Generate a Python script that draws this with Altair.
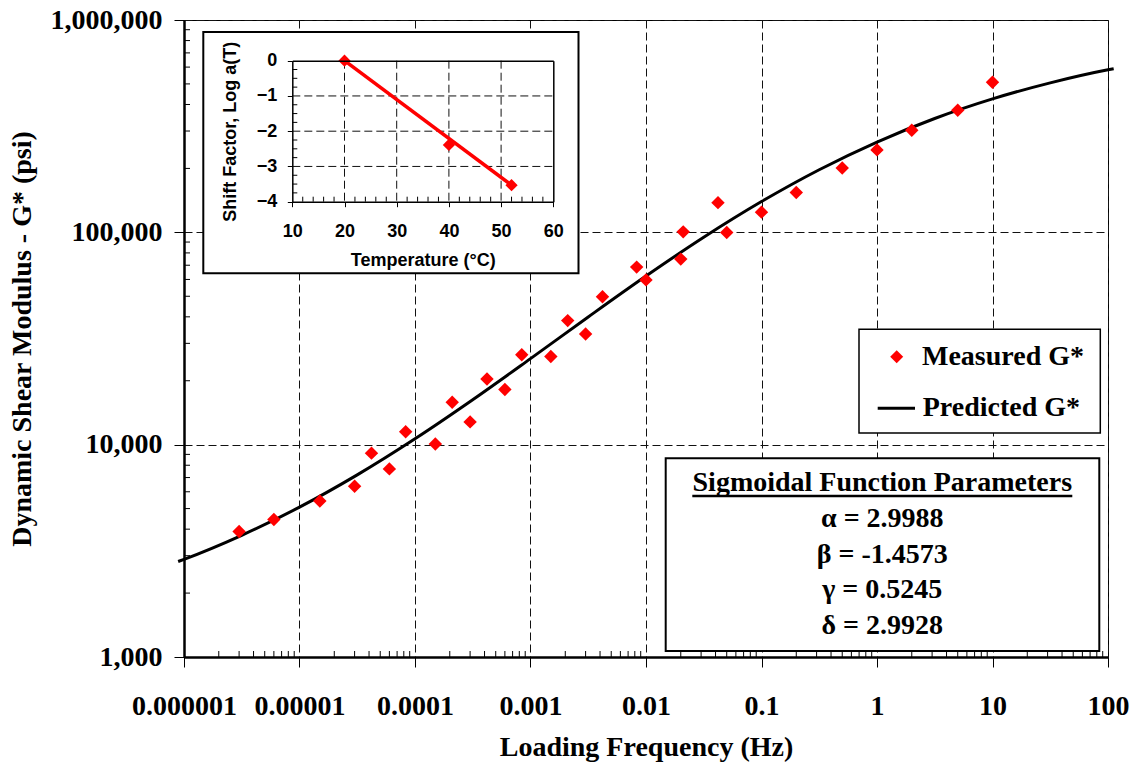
import json
import altair as alt
import pandas as pd

# ---------------- data ----------------
freq_meas = [3e-6, 6e-6, 1.5e-5, 3e-5, 4.2e-5, 6e-5, 8.3e-5, 1.5e-4, 2.1e-4, 3e-4,
             4.2e-4, 6e-4, 8.4e-4, 1.5e-3, 2.1e-3, 3e-3, 4.2e-3, 8.3e-3, 0.01, 0.02,
             0.021, 0.042, 0.05, 0.1, 0.2, 0.5, 1, 2, 5, 10]
g_meas = [3900, 4440, 5430, 6370, 9120, 7690, 11500, 10080, 15850, 12800,
          20400, 18200, 26500, 26000, 38400, 33200, 49700, 68600, 59700, 74800,
          100500, 138000, 99800, 124500, 154000, 201000, 244500, 302700, 375800, 509000]

freq_pred = [8.9e-7, 1e-6, 3.16e-6, 1e-5, 3.16e-5, 1e-4, 3.16e-4, 1e-3, 3.16e-3, 1e-2,
             3.16e-2, 0.1, 0.316, 1, 3.16, 10, 31.6, 100, 112]
g_pred = [2817, 2884, 3743, 5077, 7207, 10660, 16280, 25420, 39950, 62260,
          94820, 139600, 197150, 266200, 343600, 425000, 505900, 582950, 589800]

temp_pts = [20, 40, 52]
shift_pts = [0.0, -2.39, -3.53]
temp_fit = [20, 52]
shift_fit = [0.0, -3.53]

x_ticks = [1e-6, 1e-5, 1e-4, 1e-3, 1e-2, 1e-1, 1, 10, 100]
x_tick_labels = ["0.000001", "0.00001", "0.0001", "0.001", "0.01", "0.1", "1", "10", "100"]
x_minor = [m * t for t in x_ticks[:-1] for m in range(2, 10)]
y_ticks = [1e3, 1e4, 1e5, 1e6]
y_tick_labels = ["1,000", "10,000", "100,000", "1,000,000"]
y_minor = [m * t for t in y_ticks[:-1] for m in range(2, 10)]

inset_x_ticks = [10, 20, 30, 40, 50, 60]
inset_x_minor = [12, 14, 16, 18, 22, 24, 26, 28, 32, 34, 36, 38, 42, 44, 46, 48, 52, 54, 56, 58]
inset_y_ticks = [0, -1, -2, -3, -4]
inset_y_minor = [-0.25, -0.5, -0.75, -1.25, -1.5, -1.75, -2.25, -2.5, -2.75, -3.25, -3.5, -3.75]
inset_x_grid = [20, 30, 40, 50]
inset_y_grid = [-1, -2, -3]

legend_labels = ["Measured G*", "Predicted G*"]
param_title = "Sigmoidal Function Parameters"
param_lines = ["\u03b1 = 2.9988", "\u03b2 = -1.4573", "\u03b3 = 0.5245", "\u03b4 = 2.9928"]

# ---------------- layout ----------------
W, H = 924, 637
SERIF = "Liberation Serif"
SANS = "Liberation Sans"
IX0, IX1, IY0, IY1 = 108.3, 369.3, 40.7, 181.7   # inset plot rectangle inside main plot

meas = pd.DataFrame({"f": freq_meas, "g": g_meas})
pred = pd.DataFrame({"f": freq_pred, "g": g_pred})
ins_pts = pd.DataFrame({"t": temp_pts, "s": shift_pts})
ins_fit = pd.DataFrame({"t": temp_fit, "s": shift_fit})
one = pd.DataFrame({"k": [0]})

xs = alt.Scale(type="log", domain=[1e-6, 100], nice=False)
ys = alt.Scale(type="log", domain=[1000, 1e6], nice=False)
ixs = alt.Scale(domain=[10, 60], range=[IX0, IX1], nice=False, zero=False)
iys = alt.Scale(domain=[-4, 0], range=[IY1, IY0], nice=False, zero=False)

x_expr = json.dumps(x_tick_labels) + "[round(log(datum.value)/LN10) + 6]"
y_expr = json.dumps(y_tick_labels) + "[round(log(datum.value)/LN10) - 3]"

common_font = dict(labelFont=SERIF, labelFontSize=28, labelFontWeight="bold", labelColor="black",
                   titleFont=SERIF, titleFontSize=28, titleFontWeight="bold", titleColor="black")
grid_style = dict(grid=True, gridDash=[8, 4], gridColor="#111111", gridWidth=1)

x_major = alt.Axis(orient="bottom", values=x_ticks, labelExpr=x_expr, tickSize=10, tickColor="black",
                   domainColor="black", domainWidth=2.5, labelBaseline="alphabetic", labelPadding=47,
                   labelFlush=False, labelOverlap=False, title="Loading Frequency (Hz)",
                   titleBaseline="alphabetic", titleY=98, **grid_style, **common_font)
y_major = alt.Axis(orient="left", values=y_ticks, labelExpr=y_expr, tickSize=10, tickColor="black",
                   domainColor="black", domainWidth=2.5, labelBaseline="middle", labelPadding=12,
                   labelOverlap=False, title="Dynamic Shear Modulus - G* (psi)",
                   titleBaseline="alphabetic", titleAngle=270, titleX=-154, titleY=H / 2,
                   **grid_style, **common_font)

curve = alt.Chart(pred).mark_line(color="black", strokeWidth=3, interpolate="monotone").encode(
    x=alt.X("f:Q", scale=xs, axis=x_major),
    y=alt.Y("g:Q", scale=ys, axis=y_major),
)
points = alt.Chart(meas).mark_point(shape="diamond", filled=True, color="red", size=180, opacity=1).encode(
    x=alt.X("f:Q", scale=xs, axis=None),
    y=alt.Y("g:Q", scale=ys, axis=None),
)
minor_x = alt.Chart(pd.DataFrame({"f": x_minor})).mark_rule(color="black", strokeWidth=1).encode(
    x=alt.X("f:Q", scale=xs, axis=None), y=alt.value(H - 6), y2=alt.value(H))
minor_y = alt.Chart(pd.DataFrame({"g": y_minor})).mark_rule(color="black", strokeWidth=1).encode(
    y=alt.Y("g:Q", scale=ys, axis=None), x=alt.value(0), x2=alt.value(6))


def box(x1, x2, y1, y2, sw):
    return alt.Chart(one).mark_rect(fill="white", stroke="black", strokeWidth=sw).encode(
        x=alt.value(x1), x2=alt.value(x2), y=alt.value(y1), y2=alt.value(y2))


def label(txt, x, y, align="left", size=28, font=SERIF):
    return alt.Chart(one).mark_text(align=align, baseline="middle", font=font, fontSize=size,
                                    fontWeight="bold", color="black").encode(
        x=alt.value(x), y=alt.value(y), text=alt.value(txt))


inset_box = box(19.3, 394.5, 12, 253.3, 2)
legend_box = box(675, 916.3, 309.3, 413, 1.5)
param_box = box(481.7, 915.3, 438.3, 631, 2)

leg_sym1 = alt.Chart(one).mark_point(shape="diamond", filled=True, color="red", size=170, opacity=1).encode(
    x=alt.value(712.7), y=alt.value(336.7))
leg_sym2 = alt.Chart(one).mark_rule(color="black", strokeWidth=3).encode(
    x=alt.value(693.7), x2=alt.value(731), y=alt.value(388.3))
leg_t1 = label(legend_labels[0], 738, 336.7)
leg_t2 = label(legend_labels[1], 738.7, 388.3)

p_title = label(param_title, 698.3, 462.7, align="center")
p_under = alt.Chart(one).mark_rule(color="black", strokeWidth=2.5).encode(
    x=alt.value(508.3), x2=alt.value(888.3), y=alt.value(476))
param_y = [499.3, 535, 570.3, 605.7]
p_lines = [label(t, 698.3, yy, align="center") for t, yy in zip(param_lines, param_y)]

# ---------------- inset ----------------
inset_font = dict(labelFont=SANS, labelFontSize=18, labelFontWeight="bold", labelColor="black",
                  titleFont=SANS, titleFontSize=18, titleFontWeight="bold", titleColor="black")

ig_v = alt.Chart(pd.DataFrame({"t": inset_x_grid})).mark_rule(
    strokeDash=[8, 4], color="#111111", strokeWidth=1).encode(
    x=alt.X("t:Q", scale=ixs, axis=None), y=alt.value(IY0), y2=alt.value(IY1))
ig_h = alt.Chart(pd.DataFrame({"s": inset_y_grid})).mark_rule(
    strokeDash=[8, 4], color="#111111", strokeWidth=1).encode(
    y=alt.Y("s:Q", scale=iys, axis=None), x=alt.value(IX0), x2=alt.value(IX1))
im_x = alt.Chart(pd.DataFrame({"t": inset_x_minor})).mark_rule(color="black", strokeWidth=1).encode(
    x=alt.X("t:Q", scale=ixs, axis=None), y=alt.value(IY1 - 5), y2=alt.value(IY1))
im_y = alt.Chart(pd.DataFrame({"s": inset_y_minor})).mark_rule(color="black", strokeWidth=1).encode(
    y=alt.Y("s:Q", scale=iys, axis=None), x=alt.value(IX0), x2=alt.value(IX0 + 5))

inset_line = alt.Chart(ins_fit).mark_line(color="red", strokeWidth=3.5).encode(
    x=alt.X("t:Q", scale=ixs, axis=alt.Axis(
        orient="bottom", offset=-(H - IY1), values=inset_x_ticks, tickSize=5, tickColor="black",
        domainColor="black", domainWidth=1.5, grid=False, labelBaseline="alphabetic",
        labelPadding=29.5, labelFlush=False, labelOverlap=False, title="Temperature (\u00b0C)",
        titleBaseline="alphabetic", titleY=63.3, zindex=1, **inset_font)),
    y=alt.Y("s:Q", scale=iys, axis=alt.Axis(
        orient="left", offset=-IX0, values=inset_y_ticks, tickSize=5, tickColor="black",
        domainColor="black", domainWidth=1.5, grid=False, labelBaseline="middle",
        labelPadding=10.5, labelOverlap=False, title="Shift Factor, Log a(T)",
        titleBaseline="alphabetic", titleAngle=270, titleX=-56.3, titleY=(IY0 + IY1) / 2,
        zindex=1, **inset_font)),
)
inset_points = alt.Chart(ins_pts).mark_point(shape="diamond", filled=True, color="red",
                                             size=150, opacity=1).encode(
    x=alt.X("t:Q", scale=ixs, axis=None),
    y=alt.Y("s:Q", scale=iys, axis=None),
)
inset_border = alt.Chart(ins_pts).mark_point(opacity=0).encode(
    x=alt.X("t:Q", scale=ixs, axis=alt.Axis(
        orient="top", offset=-IY0, labels=False, ticks=False, grid=False, domain=True,
        domainColor="black", domainWidth=1.5, title=None, zindex=1)),
    y=alt.Y("s:Q", scale=iys, axis=alt.Axis(
        orient="right", offset=IX1 - W, labels=False, ticks=False, grid=False, domain=True,
        domainColor="black", domainWidth=1.5, title=None, zindex=1)),
)

chart = alt.layer(
    curve, points,
    inset_box, legend_box, param_box,
    minor_x, minor_y,
    leg_sym1, leg_sym2, leg_t1, leg_t2, p_title, p_under, *p_lines,
    ig_v, ig_h, im_x, im_y, inset_line, inset_points, inset_border,
).resolve_scale(
    x="independent", y="independent"
).resolve_axis(
    x="independent", y="independent"
).properties(
    width=W, height=H,
    autosize=alt.AutoSizeParams(type="none"),
    padding={"left": 184, "top": 20, "right": 26, "bottom": 108},
    background="white",
).configure_view(stroke="black", strokeWidth=1)

chart.save("out.html", embed_options={"renderer": "svg", "actions": False})
